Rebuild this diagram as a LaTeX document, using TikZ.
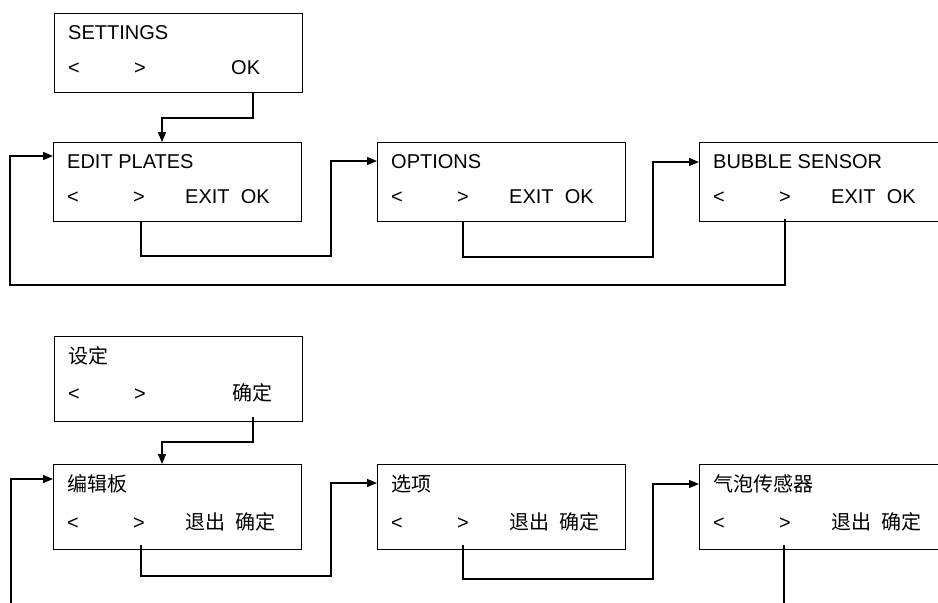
\documentclass[tikz,border=0pt]{standalone}
\usepackage{fontspec}
\setmainfont{Liberation Sans}
\newfontfamily\cjk{Noto Sans CJK SC}
\usetikzlibrary{calc}
\usetikzlibrary{arrows.meta}

\begin{document}
\begin{tikzpicture}[x=1pt, y=-1pt,
    screen/.style={draw, line width=1pt, minimum width=248pt, anchor=north west, inner sep=0pt},
    screentext/.style={anchor=base west, inner sep=0pt, font=\fontsize{20}{24}\selectfont},
    screenkey/.style={anchor=base, inner sep=0pt, font=\fontsize{20}{24}\selectfont},
    link/.style={line width=1.3pt},
    go/.style={link, -{Triangle[length=10pt, width=8pt]}},
    inside/.style={shorten <=-5pt}]

    \useasboundingbox (0,0) rectangle (938,603);
    \clip (0,0) rectangle (938,603);

    % The English menu
        \node[screen, minimum height=79pt] (set) at (54,13) {};
        \node[screen, minimum height=79pt] (edit) at (53,142) {};
        \node[screen, minimum height=79pt] (opt) at (377,142) {};
        \node[screen, minimum height=79pt] (bub) at (699,142) {};

        \node[screentext] (setT) at ($(set.north west) + (14,26)$) {SETTINGS};
        \node[screenkey] (setL) at ($(set.north west) + (20,61)$) {<};
        \node[screenkey] (setR) at ($(set.north west) + (86,61)$) {>};
        \node[screentext] (setK) at ($(set.north west) + (177,61)$) {OK};

        \node[screentext] (editT) at ($(edit.north west) + (14,26)$) {EDIT PLATES};
        \node[screenkey] (editL) at ($(edit.north west) + (20,61)$) {<};
        \node[screenkey] (editR) at ($(edit.north west) + (86,61)$) {>};
        \node[screentext] (editK) at ($(edit.north west) + (132,61)$) {EXIT\ \ OK};

        \node[screentext] (optT) at ($(opt.north west) + (14,26)$) {OPTIONS};
        \node[screenkey] (optL) at ($(opt.north west) + (20,61)$) {<};
        \node[screenkey] (optR) at ($(opt.north west) + (86,61)$) {>};
        \node[screentext] (optK) at ($(opt.north west) + (132,61)$) {EXIT\ \ OK};

        \node[screentext] (bubT) at ($(bub.north west) + (14,26)$) {BUBBLE SENSOR};
        \node[screenkey] (bubL) at ($(bub.north west) + (20,61)$) {<};
        \node[screenkey] (bubR) at ($(bub.north west) + (86,61)$) {>};
        \node[screentext] (bubK) at ($(bub.north west) + (132,61)$) {EXIT\ \ OK};

        \coordinate (setOut) at ($(set.south west) + (199,0)$);
        \coordinate (editIn) at ($(edit.north west) + (109,0)$);
        \coordinate (editBack) at ($(edit.north west) + (0,14)$);
        \coordinate (editOut) at ($(edit.south west) + (88,0)$);
        \coordinate (optIn) at ($(opt.north west) + (0,19)$);
        \coordinate (optOut) at ($(opt.south west) + (86,0)$);
        \coordinate (bubIn) at ($(bub.north west) + (0,20)$);
        \coordinate (bubOut) at ($(bub.south west) + (86,0)$);

        \draw[go] (setOut) -- ++(0,25) -| (editIn);
        \draw[go] (editOut) -- ++(0,34) -| ($(optIn) + (-46,0)$) -- (optIn);
        \draw[go] (optOut) -- ++(0,35) -| ($(bubIn) + (-46,0)$) -- (bubIn);
        \draw[go, shorten <=-3pt] (bubOut) -- ++(0,63) -| ($(editBack) + (-43,0)$) -- (editBack);

    % The Chinese menu
        \node[screen, minimum height=85pt] (sheding) at (54,336) {};
        \node[screen, minimum height=85pt] (bianji) at (53,464) {};
        \node[screen, minimum height=85pt] (xuanxiang) at (377,464) {};
        \node[screen, minimum height=85pt] (qipao) at (699,464) {};

        \node[screentext] (shedingT) at ($(sheding.north west) + (14,27)$) {\cjk 设定};
        \node[screenkey] (shedingL) at ($(sheding.north west) + (20,64)$) {<};
        \node[screenkey] (shedingR) at ($(sheding.north west) + (86,64)$) {>};
        \node[screentext] (shedingK) at ($(sheding.north west) + (178,64)$) {\cjk 确定};

        \node[screentext] (bianjiT) at ($(bianji.north west) + (14,27)$) {\cjk 编辑板};
        \node[screenkey] (bianjiL) at ($(bianji.north west) + (20,65)$) {<};
        \node[screenkey] (bianjiR) at ($(bianji.north west) + (86,65)$) {>};
        \node[screentext] (bianjiK) at ($(bianji.north west) + (132,65)$) {\cjk 退出\hspace{10pt}确定};

        \node[screentext] (xuanxiangT) at ($(xuanxiang.north west) + (14,27)$) {\cjk 选项};
        \node[screenkey] (xuanxiangL) at ($(xuanxiang.north west) + (20,65)$) {<};
        \node[screenkey] (xuanxiangR) at ($(xuanxiang.north west) + (86,65)$) {>};
        \node[screentext] (xuanxiangK) at ($(xuanxiang.north west) + (132,65)$) {\cjk 退出\hspace{10pt}确定};

        \node[screentext] (qipaoT) at ($(qipao.north west) + (14,27)$) {\cjk 气泡传感器};
        \node[screenkey] (qipaoL) at ($(qipao.north west) + (20,65)$) {<};
        \node[screenkey] (qipaoR) at ($(qipao.north west) + (86,65)$) {>};
        \node[screentext] (qipaoK) at ($(qipao.north west) + (132,65)$) {\cjk 退出\hspace{10pt}确定};

        \coordinate (shedingOut) at ($(sheding.south west) + (199,0)$);
        \coordinate (bianjiIn) at ($(bianji.north west) + (109,0)$);
        \coordinate (bianjiBack) at ($(bianji.north west) + (0,15)$);
        \coordinate (bianjiOut) at ($(bianji.south west) + (88,0)$);
        \coordinate (xuanxiangIn) at ($(xuanxiang.north west) + (0,19)$);
        \coordinate (xuanxiangOut) at ($(xuanxiang.south west) + (86,0)$);
        \coordinate (qipaoIn) at ($(qipao.north west) + (0,20)$);
        \coordinate (qipaoOut) at ($(qipao.south west) + (85,0)$);

        \draw[go, inside] (shedingOut) -- ++(0,20) -| (bianjiIn);
        \draw[go, inside] (bianjiOut) -- ++(0,26) -| ($(xuanxiangIn) + (-46,0)$) -- (xuanxiangIn);
        \draw[go, inside] (xuanxiangOut) -- ++(0,29) -| ($(qipaoIn) + (-46,0)$) -- (qipaoIn);
        % the loop back runs off the bottom of the page
        \draw[link, inside] (qipaoOut) -- ++(0,80);
        \draw[go] ($(bianjiBack) + (-42,140)$) -- ($(bianjiBack) + (-42,0)$) -- (bianjiBack);
\end{tikzpicture}
\end{document}
